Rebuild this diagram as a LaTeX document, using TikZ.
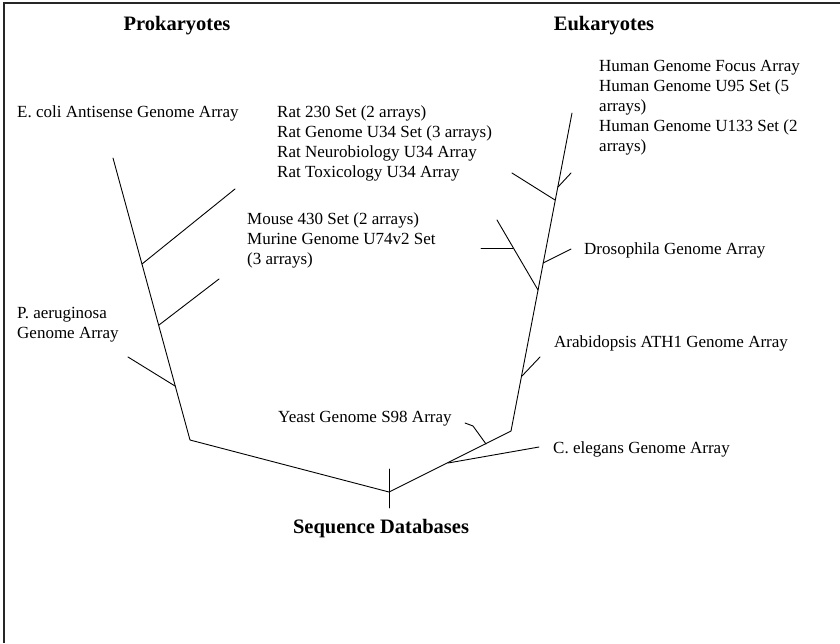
\documentclass[tikz,border=0pt]{standalone}
\usepackage{fontspec}
\setmainfont{Liberation Serif}
\newcommand\labellines[1]{\vtop{\halign{##\hfil\cr#1\crcr}}}
\tikzset{
  branch/.style={draw=black, line width=0.9pt, line cap=round, line join=round},
  frameline/.style={draw=black!85, line width=1.6pt},
  label/.style={anchor=base west, inner sep=0pt, font=\fontsize{17}{20}\selectfont},
  title/.style={anchor=base, inner sep=0pt, font=\fontsize{20.5}{24}\selectfont\bfseries},
}
\begin{document}
\begin{tikzpicture}[x=1pt,y=-1pt]
\useasboundingbox (0,0) rectangle (840,643);
% frame on the left and top edges
\coordinate (fbl) at (4,643);
\coordinate (ftl) at (4,3);
\coordinate (ftr) at (840,3);
\draw[frameline] (fbl) -- (ftl) -- (ftr);

% titles
\node[title] (prok) at (177,30) {Prokaryotes};
\node[title] (euk) at (604,30) {Eukaryotes};
\node[title] (seqdb) at (381,533) {Sequence Databases};

% root and the two main lineages
\coordinate (root) at (389,492);
\coordinate (rtop) at (389,469);
\coordinate (rbot) at (389,508);
\coordinate (pk) at (190,440);
\coordinate (pktop) at (113,158);
\coordinate (ek) at (511,431);
\coordinate (ektop) at (572,113);
\draw[branch] (rtop) -- (rbot);
\draw[branch] (pktop) -- (pk) -- (root) -- (ek) -- (ektop);

% prokaryote side branches
\coordinate (pj1) at (142,264); \coordinate (pe1) at (235,189);
\coordinate (pj2) at (159,325); \coordinate (pe2) at (219,279);
\coordinate (pj3) at (175,386); \coordinate (pe3) at (128,357);
\draw[branch] (pj1) -- (pe1);
\draw[branch] (pj2) -- (pe2);
\draw[branch] (pj3) -- (pe3);

% branches near the root
\coordinate (cej) at (448,463); \coordinate (cee) at (539,447);
\coordinate (yj) at (486,444); \coordinate (yk) at (473,426); \coordinate (ye) at (465,423);
\draw[branch] (cej) -- (cee);
\draw[branch] (yj) -- (yk) -- (ye);

% eukaryote side branches
\coordinate (aj) at (522,376); \coordinate (ae) at (540,357);
\coordinate (mj) at (538,290); \coordinate (me) at (497,220);
\coordinate (mhj) at (513,248); \coordinate (mhe) at (481,248);
\coordinate (dj) at (543,263); \coordinate (de) at (571,249);
\coordinate (rj) at (555,200); \coordinate (re) at (512,173);
\coordinate (hj) at (558,187); \coordinate (he) at (571,173);
\draw[branch] (aj) -- (ae);
\draw[branch] (mj) -- (me);
\draw[branch] (mhj) -- (mhe);
\draw[branch] (dj) -- (de);
\draw[branch] (rj) -- (re);
\draw[branch] (hj) -- (he);

% array labels
\node[label] (ecoli) at (17,117) {E. coli Antisense Genome Array};
\node[label] (paer) at (17,318) {\labellines{P. aeruginosa\cr Genome Array}};
\node[label] (rat) at (277,117) {\labellines{Rat 230 Set (2 arrays)\cr Rat Genome U34 Set (3 arrays)\cr Rat Neurobiology U34 Array\cr Rat Toxicology U34 Array}};
\node[label] (mouse) at (247,224) {\labellines{Mouse 430 Set (2 arrays)\cr Murine Genome U74v2 Set\cr (3 arrays)}};
\node[label] (human) at (599,71) {\labellines{Human Genome Focus Array\cr Human Genome U95 Set (5\cr arrays)\cr Human Genome U133 Set (2\cr arrays)}};
\node[label] (dros) at (584,254) {Drosophila Genome Array};
\node[label] (arab) at (554,347) {Arabidopsis ATH1 Genome Array};
\node[label] (yeast) at (278,422) {Yeast Genome S98 Array};
\node[label] (celeg) at (553,453) {C. elegans Genome Array};
\end{tikzpicture}
\end{document}
